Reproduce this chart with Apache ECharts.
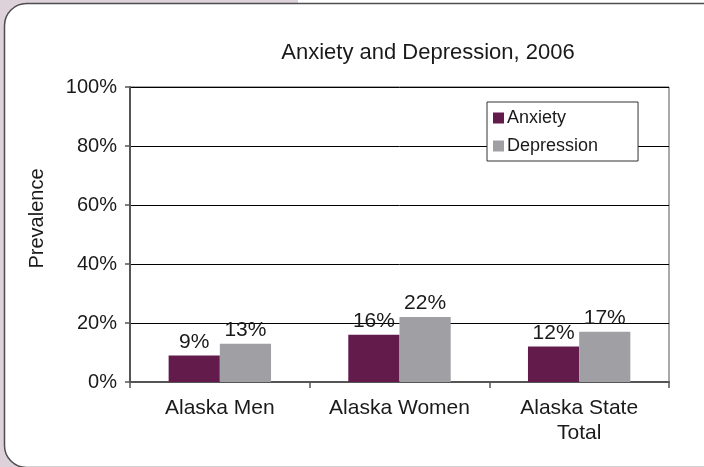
<!DOCTYPE html>
<html>
<head>
<meta charset="utf-8">
<script src="https://cdn.jsdelivr.net/npm/echarts@6/dist/echarts.min.js"></script>
<style>
  html, body { margin: 0; padding: 0; background: #ffffff; }
  #chart { width: 704px; height: 467px; }
</style>
</head>
<body>
<div id="chart"></div>
<script>
// Prevalence of anxiety and depression in Alaska, 2006 (percent)
const categories = ['Alaska Men', 'Alaska Women', 'Alaska State\nTotal'];
const anxiety = [9, 16, 12];
const depression = [13, 22, 17];
const yTicks = [0, 20, 40, 60, 80, 100];

const chart = echarts.init(document.getElementById('chart'), null, { renderer: 'canvas' });

const sansFont = '"Liberation Sans", Arial, sans-serif';

chart.setOption({
  backgroundColor: '#ffffff',
  animation: false,
  graphic: [
    // lavender page edge behind the framed panel
    { type: 'rect', z: -20, silent: true,
      shape: { x: 0, y: 0, width: 298, height: 467 },
      style: { fill: '#ded2da' } },
    // rounded white panel
    { type: 'rect', z: -10, silent: true,
      shape: { x: 4.5, y: 3.5, width: 740, height: 464, r: 22 },
      style: { fill: '#ffffff', stroke: '#4d4d4d', lineWidth: 1.5 } }
  ],
  title: {
    text: 'Anxiety and Depression, 2006',
    left: 423,
    top: 37,
    textAlign: 'center',
    textStyle: { fontFamily: sansFont, fontSize: 22, fontWeight: 'normal', color: '#1a1a1a' }
  },
  legend: {
    data: ['Anxiety', 'Depression'],
    orient: 'vertical',
    left: 487,
    top: 102,
    padding: [7, 40, 6, 6],
    itemGap: 10,
    itemWidth: 11,
    itemHeight: 11,
    icon: 'rect',
    backgroundColor: '#ffffff',
    borderColor: '#333333',
    borderWidth: 1,
    borderRadius: 0,
    textStyle: { fontFamily: sansFont, fontSize: 18, color: '#1a1a1a', padding: [0, 0, 0, -2] }
  },
  grid: {
    left: 130, right: 35, top: 87, bottom: 85,
    show: true, borderColor: '#555555', borderWidth: 1,
    containLabel: false
  },
  xAxis: {
    type: 'category',
    data: categories,
    axisLine: { lineStyle: { color: '#555555', width: 2 } },
    axisTick: { show: true, length: 6, lineStyle: { color: '#555555', width: 1.5 } },
    axisLabel: { interval: 0, hideOverlap: false, fontFamily: sansFont, fontSize: 21,
                 color: '#1a1a1a', margin: 14, lineHeight: 25 }
  },
  yAxis: {
    type: 'value',
    min: yTicks[0],
    max: yTicks[yTicks.length - 1],
    interval: yTicks[1] - yTicks[0],
    name: 'Prevalence',
    nameLocation: 'middle',
    nameGap: 83,
    nameTextStyle: { fontFamily: sansFont, fontSize: 20, color: '#1a1a1a', padding: [0, 0, 0, 32] },
    axisLine: { show: true, lineStyle: { color: '#555555', width: 2 } },
    axisTick: { show: true, length: 5, lineStyle: { color: '#555555', width: 1.5 } },
    axisLabel: { fontFamily: sansFont, fontSize: 20, color: '#1a1a1a', margin: 13, formatter: '{value}%' },
    splitLine: { show: true, lineStyle: { color: '#000000', width: 1 } }
  },
  series: [
    {
      name: 'Anxiety', type: 'bar', data: anxiety,
      barGap: '0%', barCategoryGap: '43%',
      itemStyle: { color: '#631b4c' },
      label: { show: true, position: 'top', distance: 3, formatter: '{c}%',
               fontFamily: sansFont, fontSize: 21, color: '#1a1a1a' }
    },
    {
      name: 'Depression', type: 'bar', data: depression,
      itemStyle: { color: '#a0a0a4' },
      label: { show: true, position: 'top', distance: 3, formatter: '{c}%',
               fontFamily: sansFont, fontSize: 21, color: '#1a1a1a' }
    }
  ]
});
</script>
</body>
</html>
